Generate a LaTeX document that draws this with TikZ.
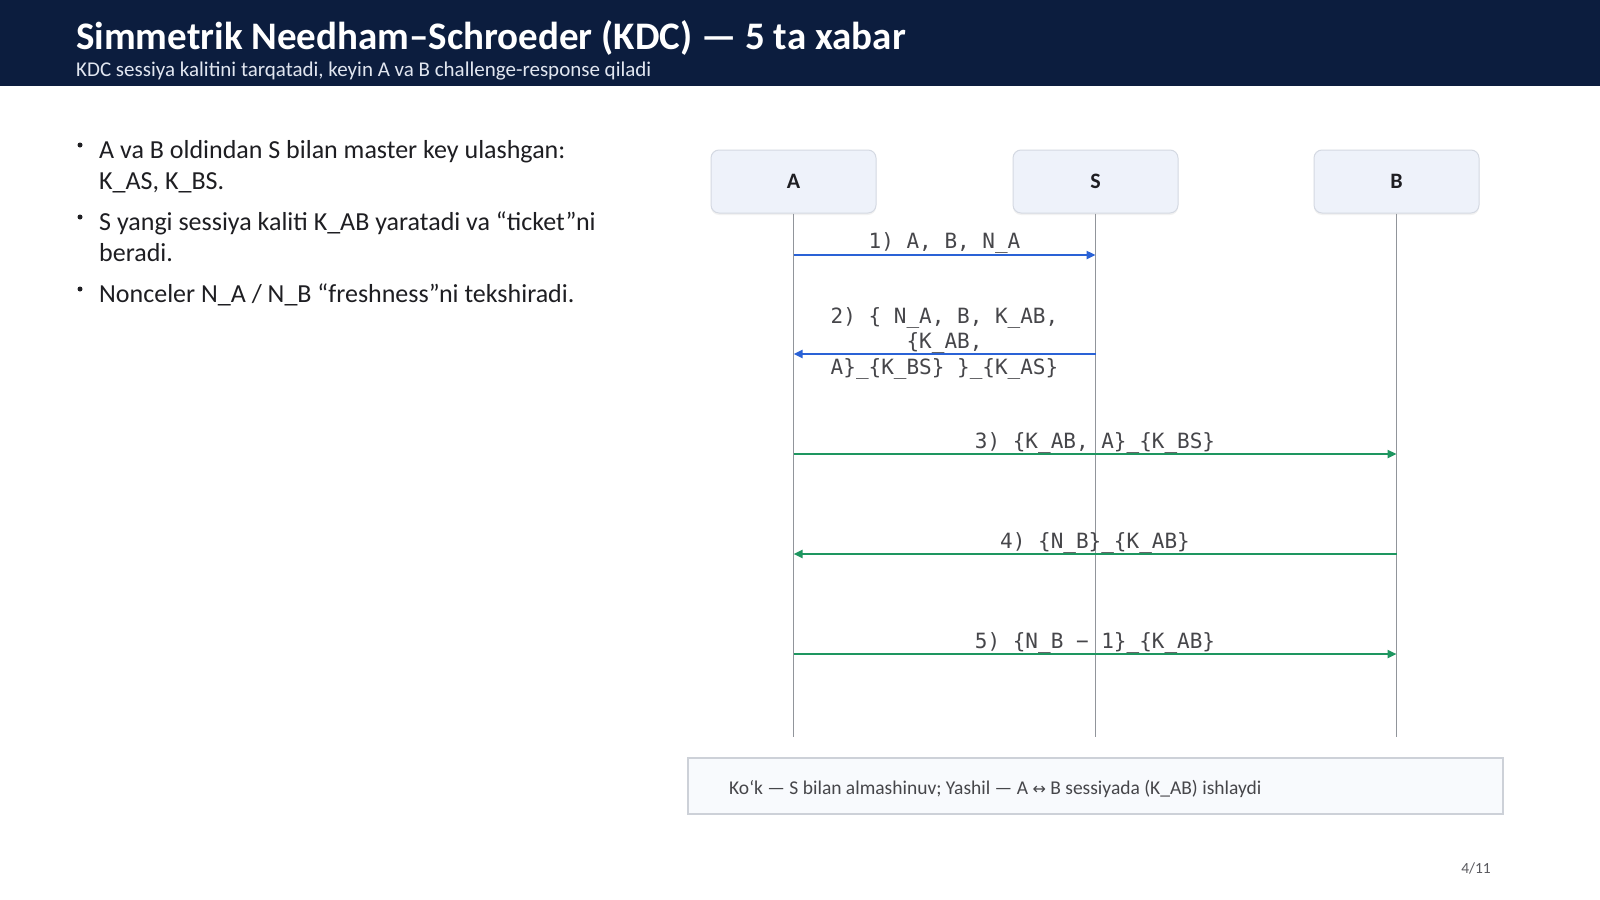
\documentclass[tikz,border=0pt]{standalone}
\usepackage{fontspec}
\setmainfont{Carlito}
\newfontfamily\monofont{DejaVu Sans Mono}
\newfontfamily\symfont{DejaVu Sans}
\usetikzlibrary{arrows.meta,shadows}
\definecolor{navy}{RGB}{12,29,62}
\definecolor{subwhite}{RGB}{225,230,240}
\definecolor{boxfill}{RGB}{238,242,250}
\definecolor{boxline}{RGB}{212,217,226}
\definecolor{lifegray}{RGB}{145,149,155}
\definecolor{msgblue}{RGB}{42,98,214}
\definecolor{msggreen}{RGB}{30,150,96}
\definecolor{txtdark}{RGB}{30,30,34}
\definecolor{lblgray}{RGB}{70,70,74}
\definecolor{legfill}{RGB}{248,250,253}
\definecolor{legline}{RGB}{205,209,216}
\definecolor{pagegray}{RGB}{90,90,95}
\tikzset{
  party/.style={draw=boxline, line width=1pt, fill=boxfill, rounded corners=8pt,
    minimum width=165pt, minimum height=63pt, font=\fontsize{22}{26}\selectfont\bfseries, text=txtdark,
    drop shadow={opacity=0.10, shadow xshift=0pt, shadow yshift=-2pt}},
  lifeline/.style={draw=lifegray, line width=1.2pt},
  bluemsg/.style={draw=msgblue, line width=2.8pt, -{Triangle[length=9pt,width=8pt]}},
  greenmsg/.style={draw=msggreen, line width=2.8pt, -{Triangle[length=9pt,width=8pt]}},
  msglabel/.style={font=\monofont\fontsize{21}{25}\selectfont, text=lblgray, align=center, inner sep=0pt, anchor=base},
  bline/.style={font=\fontsize{26}{31}\selectfont, text=txtdark, anchor=base west, inner sep=0pt},
  bulletdot/.style={fill=txtdark, draw=none, circle, inner sep=0pt, minimum size=5pt},
}
\begin{document}
\begin{tikzpicture}[x=1pt,y=-1pt]
\useasboundingbox (0,0) rectangle (1600,899);
\fill[white] (0,0) rectangle (1600,899);
% header
\fill[navy] (0,0) rectangle (1600,86);
\node[anchor=base west, inner sep=0pt, text=white, font=\fontsize{39}{44}\selectfont\bfseries] (title) at (76,49) {Simmetrik Needham–Schroeder (KDC) — 5 ta xabar};
\node[anchor=base west, inner sep=0pt, text=subwhite, font=\fontsize{21}{24}\selectfont] (subtitle) at (76,76) {KDC sessiya kalitini tarqatadi, keyin A va B challenge-response qiladi};
% bullets
\node[bulletdot] (d1) at (80,145) {};
\node[bline] (b1a) at (99,158) {A va B oldindan S bilan master key ulashgan:};
\node[bline] (b1b) at (99,189) {K\_AS, K\_BS.};
\node[bulletdot] (d2) at (80,217) {};
\node[bline] (b2a) at (99,230) {S yangi sessiya kaliti K\_AB yaratadi va “ticket”ni};
\node[bline] (b2b) at (99,261) {beradi.};
\node[bulletdot] (d3) at (80,289) {};
\node[bline] (b3a) at (99,302) {Nonceler N\_A / N\_B “freshness”ni tekshiradi.};
% participants
\node[party] (A) at (793.5,181.5) {A};
\node[party] (S) at (1095.5,181.5) {S};
\node[party] (B) at (1396.5,181.5) {B};
\coordinate (Aend) at (793.5,737);
\coordinate (Send) at (1095.5,737);
\coordinate (Bend) at (1396.5,737);
\draw[lifeline] (A.south) -- (Aend);
\draw[lifeline] (S.south) -- (Send);
\draw[lifeline] (B.south) -- (Bend);
% message anchors
\foreach \n/\y in {1/255,2/354,3/454,4/554,5/654}{
  \coordinate (a\n) at (793.5,\y);
  \coordinate (s\n) at (1095.5,\y);
  \coordinate (b\n) at (1396.5,\y);
}
\draw[bluemsg] (a1) -- (s1);
\node[msglabel] (l1) at (944.5,248) {1) A, B, N\_A};
\draw[bluemsg] (s2) -- (a2);
\node[msglabel] (l2a) at (944.5,323) {2) \{ N\_A, B, K\_AB,};
\node[msglabel] (l2b) at (944.5,348) {\{K\_AB,};
\node[msglabel] (l2c) at (944.5,374) {A\}\_\{K\_BS\} \}\_\{K\_AS\}};
\draw[greenmsg] (a3) -- (b3);
\node[msglabel] (l3) at (1095,448) {3) \{K\_AB, A\}\_\{K\_BS\}};
\draw[greenmsg] (b4) -- (a4);
\node[msglabel] (l4) at (1095,548) {4) \{N\_B\}\_\{K\_AB\}};
\draw[greenmsg] (a5) -- (b5);
\node[msglabel] (l5) at (1095,648) {5) \{N\_B − 1\}\_\{K\_AB\}};
% legend
\node[draw=legline, line width=1.2pt, fill=legfill, minimum width=815pt, minimum height=56pt, inner sep=0pt] (legend) at (1095.5,786) {};
\node[anchor=base west, inner sep=0pt, text=lblgray, font=\fontsize{19.5}{23}\selectfont] (legtext) at (729,794) {Ko‘k — S bilan almashinuv; Yashil — A {\symfont\fontsize{16}{18}\selectfont ↔} B sessiyada (K\_AB) ishlaydi};
% page number
\node[anchor=base east, inner sep=0pt, text=pagegray, font=\fontsize{15.5}{18}\selectfont] (page) at (1491,873) {4/11};
\end{tikzpicture}
\end{document}
